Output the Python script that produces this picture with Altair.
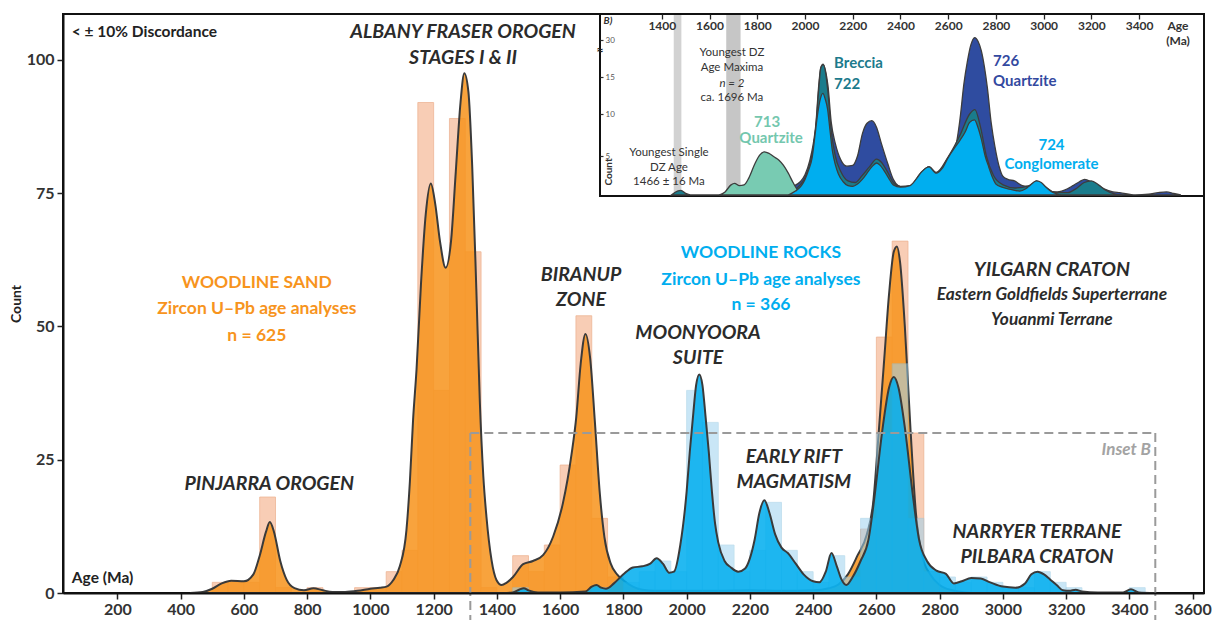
import altair as alt
import pandas as pd

FONT = "Lato"
INK = "#2b2b2b"
SAND = "#F7941D"
ROCK = "#00AEEF"
W, H = 1141, 579

# ---------------- main panel: kernel density curves (age Ma, count) ----------------
sand_age = [430, 470, 500, 530, 560, 600, 630, 650, 670, 682, 695, 715, 735, 760, 790,
            820, 850, 880, 920, 960, 1000, 1030, 1051, 1072, 1093, 1114, 1125, 1135, 1146,
            1160, 1175, 1191, 1205, 1220, 1238, 1255, 1270, 1285, 1297, 1310, 1322, 1335,
            1346, 1357, 1367, 1383, 1399, 1415, 1430, 1451, 1483, 1514, 1546, 1578, 1609,
            1636, 1651, 1665, 1680, 1695, 1710, 1725, 1740, 1760, 1780, 1800, 1830, 1860,
            1900, 2000, 2100, 2200, 2300, 2400, 2450, 2480, 2510, 2540, 2570, 2590, 2608,
            2625, 2640, 2655, 2665, 2675, 2690, 2708, 2725, 2745, 2770, 2800, 2840, 2900]
sand_cnt = [0, 0.2, 0.8, 1.8, 2.3, 2.2, 3.5, 7, 11.5, 13.3, 11.5, 6, 2.5, 0.9, 0.5,
            0.9, 0.5, 0.2, 0.2, 0.4, 0.8, 1.0, 1.2, 2.4, 5, 11.8, 21, 32.5, 42,
            58, 71, 76.8, 73, 66, 61, 66, 79, 92, 97.5, 94, 80, 57,
            36, 22, 14.3, 6.2, 2.4, 1.5, 1.9, 3, 5.4, 6, 7.1, 10.6, 16.9,
            26, 33, 43, 48.6, 44, 32, 19, 10.5, 5.5, 3.5, 2.4, 1.2, 0.6,
            0.4, 0.4, 0.4, 0.5, 0.4, 0.5, 0.9, 1.6, 3.5, 7, 11, 17, 30.6,
            44, 56, 64, 65, 62, 50, 30.6, 15, 7, 3.5, 1.5, 0.5, 0]

rock_age = [1420, 1450, 1470, 1485, 1500, 1530, 1600, 1680, 1700, 1715, 1730, 1745, 1770,
            1800, 1830, 1860, 1885, 1905, 1925, 1945, 1960, 1980, 2000, 2010, 2020, 2030,
            2040, 2050, 2060, 2070, 2080, 2090, 2100, 2120, 2140, 2163, 2185, 2200, 2215,
            2230, 2246, 2262, 2280, 2300, 2320, 2345, 2370, 2400, 2420, 2440, 2458, 2475,
            2490, 2505, 2525, 2550, 2575, 2595, 2619, 2640, 2655, 2670, 2691, 2715, 2735,
            2760, 2790, 2820, 2845, 2870, 2900, 2930, 2960, 3000, 3040, 3070, 3090, 3110,
            3130, 3150, 3170, 3190, 3210, 3230, 3250, 3300, 3380, 3405, 3430, 3480]
rock_cnt = [0, 0.1, 0.6, 0.9, 0.5, 0.1, 0.1, 0.3, 1.2, 1.5, 1.0, 0.8, 1.8,
            3.5, 4.8, 5, 5.5, 6.5, 5.5, 3.8, 4, 9, 19, 26.5, 33, 39,
            41, 39, 33, 26.5, 19, 13, 9.5, 6, 4.8, 4, 4.6, 6.5, 10,
            15, 17.4, 15, 11, 8.5, 7.5, 5.5, 3.5, 2.2, 2, 4, 7.5, 5,
            2.5, 1.5, 3, 6, 10, 18.5, 30.6, 38.5, 40.5, 38.5, 30.6, 18.5, 10,
            6, 4.2, 3.6, 1.8, 2.2, 2.8, 2.7, 2, 1.2, 1, 1.8, 3.5, 4,
            3.5, 2.5, 1.5, 0.5, 0.4, 0.6, 0.3, 0.1, 0.1, 0.7, 0.1, 0]

# ---------------- 50 Ma histogram bins ----------------
BIN = 50
sand_bin = [500, 550, 600, 650, 700, 800, 950, 1000, 1050, 1100, 1150, 1200, 1250, 1300,
            1350, 1450, 1500, 1550, 1600, 1650, 1700, 1750, 1800, 2550, 2600, 2650, 2700, 2750]
sand_bin_n = [2, 2, 2, 18, 1, 1, 1, 1, 4, 8, 92, 38, 89, 64,
              1, 7, 4, 9, 24, 52, 14, 3, 1, 12, 48, 66, 30, 4]
rock_bin = [1450, 1700, 1800, 1850, 1900, 1950, 2000, 2050, 2100, 2150, 2200, 2250, 2300,
            2350, 2400, 2450, 2500, 2550, 2600, 2650, 2700, 2750, 2800, 2850, 2900, 2950,
            3000, 3050, 3100, 3150, 3200, 3400]
rock_bin_n = [1, 1, 2, 4, 6, 4, 38, 32, 9, 4, 8, 17, 8,
              4, 2, 7, 3, 14, 30, 43, 14, 4, 3, 2, 3, 2,
              1, 1, 4, 2, 1, 1]

main_ticks = list(range(200, 3601, 200))
count_ticks = [0, 25, 50, 75, 100]
box_age = [1316, 3482]
box_count = 30

# ---------------- inset B: individual samples ----------------
q726_age = [1860, 1900, 1950, 1980, 2000, 2020, 2035, 2045, 2058, 2066, 2076, 2086, 2096,
            2110, 2127, 2150, 2175, 2200, 2220, 2241, 2260, 2280, 2300, 2320, 2347, 2370,
            2390, 2420, 2445, 2470, 2490, 2520, 2550, 2575, 2600, 2633, 2650, 2666, 2680,
            2695, 2711, 2725, 2739, 2752, 2764, 2780, 2796, 2815, 2829, 2850, 2878, 2911,
            2960, 2992, 3057, 3100, 3123, 3150, 3172, 3204, 3230, 3253, 3290, 3319, 3384,
            3440, 3480, 3515, 3545, 3575]
q726_cnt = [0, 0.4, 1.1, 1.7, 2.6, 4.4, 6.5, 8.6, 14, 18.8, 20.2, 17.5, 13.9,
            9, 6.5, 4.5, 3.7, 3.8, 5, 7.7, 8.9, 9.2, 8.4, 6.5, 4, 2,
            1.2, 0.9, 1.2, 2, 2.9, 3.6, 2.8, 3.5, 4.8, 6.4, 9.5, 14.1, 21,
            28, 31, 29.5, 25.6, 19, 13.6, 9, 6.1, 3.5, 2.4, 2, 1.8, 1.2,
            1, 0.5, 0.4, 0.8, 1.2, 1.7, 2, 1.6, 1.2, 0.8, 0.4, 0.3, 0,
            0.1, 0.3, 0.4, 0.2, 0]

b722_age = [1440, 1465, 1480, 1500, 1520, 1900, 1950, 1980, 2000, 2020, 2035, 2045, 2058,
            2066, 2076, 2086, 2096, 2110, 2127, 2150, 2180, 2210, 2240, 2270, 2300, 2320,
            2345, 2370, 2400, 2440, 2490, 2520, 2550, 2600, 2650, 2690, 2712, 2735, 2760,
            2790, 2830, 2880, 2940, 2970, 3000, 3050, 3100, 3140, 3170, 3200, 3230, 3260,
            3300, 3330]
b722_cnt = [0, 0.5, 0.6, 0.2, 0, 0, 0.5, 1.3, 2.2, 4, 6, 8.3, 13.5,
            18.5, 20, 17, 13, 8, 5, 3, 1.8, 1.6, 2.5, 3.6, 4.6, 4.2,
            3, 1.6, 1.1, 1.2, 3, 3.6, 2.9, 4.9, 7.5, 10, 10.6, 8.5, 5,
            2.5, 1.3, 0.9, 1.2, 1.8, 1.2, 0.3, 0.3, 0.9, 1.6, 1.8, 1.3, 0.6,
            0.1, 0]

c724_age = [1930, 1960, 1985, 2000, 2015, 2030, 2042, 2052, 2064, 2075, 2085, 2095, 2105,
            2115, 2128, 2140, 2160, 2180, 2200, 2220, 2240, 2260, 2280, 2300, 2315, 2330,
            2350, 2370, 2400, 2440, 2465, 2490, 2520, 2550, 2575, 2600, 2625, 2650, 2670,
            2690, 2710, 2725, 2740, 2755, 2770, 2785, 2800, 2825, 2850, 2900, 2925, 2945,
            2970, 2990, 3010, 3030, 3050, 3070]
c724_cnt = [0, 0.5, 1.2, 2, 3.2, 4.8, 7.5, 9.8, 12, 12.8, 12, 10.6, 8,
            5.6, 3.8, 2.7, 1.7, 1.2, 1.1, 1.4, 2, 2.8, 3.6, 4.1, 3.8, 3.2,
            2.2, 1.3, 1, 1.2, 2, 3, 3.6, 2.8, 3.4, 4.8, 5.9, 6.9, 7.8,
            9, 9.3, 8.4, 6.9, 5, 3.6, 2.3, 1.4, 1, 0.8, 0.5, 0.8, 1.3,
            1.8, 1.6, 1, 0.5, 0.2, 0]

q713_age = [1640, 1665, 1690, 1705, 1725, 1745, 1765, 1790, 1810, 1830, 1850, 1870, 1890,
            1910, 1930, 1950, 1970, 1990, 2010]
q713_cnt = [0, 0.4, 1.3, 1.5, 1.2, 1.3, 2.2, 4, 5.1, 5.5, 5.3, 4.9, 4.5,
            3.8, 2.8, 1.6, 0.6, 0.2, 0]

inset_ticks = list(range(1400, 3401, 200))
inset_count_ticks = [5, 10, 15, 30]
band_lo = [1450, 1670]
band_hi = [1482, 1730]
band_col = ["#D2D2D2", "#C6C6C6"]


def curve(a, c):
    return pd.DataFrame({"age": a, "count": c})


def bins(s, n):
    return pd.DataFrame({"start": s, "count": n})


# ---------------- main scales / axes ----------------
xs = alt.Scale(domain=[28, 3636], nice=False, zero=False)
ys = alt.Scale(domain=[0, 108.6], nice=False)
x_axis = alt.Axis(values=main_ticks, format="d", title=None, grid=False, labelFont=FONT,
                  labelFontSize=16, labelFontWeight="bold", labelColor="#333", tickColor="#222",
                  tickWidth=1.5, tickSize=6, domainColor="#111", domainWidth=2, labelPadding=2,
                  zindex=1, labelFlush=False, labelOverlap=False)
y_axis = alt.Axis(values=count_ticks, format="d", title="Count", grid=False, labelFont=FONT,
                  labelFontSize=16, labelFontWeight="bold", labelColor="#333", tickColor="#222",
                  tickWidth=1.5, tickSize=6, domainColor="#111", domainWidth=2, labelPadding=3,
                  zindex=1, titleFont=FONT, titleFontSize=14, titleFontWeight="bold",
                  titleColor="#222", titlePadding=3, labelFlush=False)


def MX(f):
    return alt.X(f, type="quantitative", scale=xs, axis=x_axis)


def MY(f):
    return alt.Y(f, type="quantitative", scale=ys, axis=y_axis)


sand_bars = alt.Chart(bins(sand_bin, sand_bin_n)).transform_calculate(
    end=f"datum.start + {BIN}"
).mark_rect(fill="#F8CDB5", stroke="#EDB596", strokeWidth=0.8).encode(
    x=MX("start"), x2="end:Q", y=MY("count"), y2=alt.datum(0))

sand_area = alt.Chart(curve(sand_age, sand_cnt)).mark_area(
    interpolate="monotone", fill=SAND, fillOpacity=0.86, stroke="#3a3a3a", strokeWidth=2
).encode(x=MX("age"), y=MY("count"))

rock_bars = alt.Chart(bins(rock_bin, rock_bin_n)).transform_calculate(
    end=f"datum.start + {BIN}"
).mark_rect(fill="#9ED3F0", opacity=0.55, stroke="#8CC4E0", strokeWidth=0.8).encode(
    x=MX("start"), x2="end:Q", y=MY("count"), y2=alt.datum(0))

rock_area = alt.Chart(curve(rock_age, rock_cnt)).mark_area(
    interpolate="monotone", fill=ROCK, fillOpacity=0.86, stroke="#3a3a3a", strokeWidth=2
).encode(x=MX("age"), y=MY("count"))

dash = dict(stroke="#9A9A9A", strokeWidth=2, strokeDash=[9, 5])
box_top = alt.Chart(pd.DataFrame({"a": [box_age[0]], "b": [box_age[1]], "c": [box_count]})).mark_rule(
    **dash).encode(x=MX("a"), x2="b:Q", y=MY("c"))
box_sides = alt.Chart(pd.DataFrame({"a": box_age, "c": [box_count] * 2})).mark_rule(
    **dash).encode(x=MX("a"), y=MY("c"), y2=alt.value(H + 27))


def labels(rows, **kw):
    df = pd.DataFrame(rows, columns=["t", "age", "count"])
    base = dict(font=FONT, baseline="middle")
    base.update(kw)
    return alt.Chart(df).mark_text(**base).encode(x=MX("age"), y=MY("count"), text="t:N")


terranes = labels([
    ("ALBANY FRASER OROGEN", 1293, 105.2),
    ("STAGES I & II", 1293, 100.3),
    ("PINJARRA OROGEN", 680, 20.4),
    ("BIRANUP", 1666, 59.6),
    ("ZONE", 1666, 54.9),
    ("MOONYOORA", 2036, 48.8),
    ("SUITE", 2036, 44.1),
    ("YILGARN CRATON", 3155, 60.6),
    ("EARLY RIFT", 2339, 25.5),
    ("MAGMATISM", 2339, 20.8),
    ("NARRYER TERRANE", 3108, 11.4),
    ("PILBARA CRATON", 3108, 6.75),
], fontSize=19.5, fontWeight="bold", fontStyle="italic", color=INK)

yilgarn_sub = labels([
    ("Eastern Goldfields Superterrane", 3155, 55.9),
    ("Youanmi Terrane", 3155, 51.2),
], fontSize=17.3, fontWeight="bold", fontStyle="italic", color=INK)

sand_note = labels([
    ("WOODLINE SAND", 641, 58.1),
    ("Zircon U–Pb age analyses", 641, 53.3),
    ("n = 625", 641, 48.2),
], fontSize=17.5, fontWeight="bold", color=SAND)

rock_note = labels([
    ("WOODLINE ROCKS", 2235, 63.8),
    ("Zircon U–Pb age analyses", 2235, 58.7),
    ("n = 366", 2235, 54.0),
], fontSize=17.5, fontWeight="bold", color=ROCK)

corner = labels([
    ("< ± 10% Discordance", 56, 105.2),
    ("Age (Ma)", 56, 2.8),
], fontSize=15.5, fontWeight="bold", color="#222", align="left")

inset_tag = labels([("Inset B", 3468, 26.8)], fontSize=17, fontWeight="bold",
                   fontStyle="italic", color="#A3A3A3", align="right")

main = alt.layer(sand_bars, sand_area, rock_bars, rock_area, box_top, box_sides,
                 terranes, yilgarn_sub, sand_note, rock_note, corner, inset_tag)

# ---------------- inset scales / axes ----------------
IX0 = 537
ix = alt.Scale(domain=[1141, 3672], range=[IX0, W], nice=False, zero=False)
iy = alt.Scale(domain=[0, 5, 10, 15, 30], range=[181, 142, 100, 63, 26], nice=False, zero=False)
ix_axis = alt.Axis(orient="bottom", offset=-H, values=inset_ticks, format="d", title=None,
                   grid=False, domain=False, labelFont=FONT, labelFontSize=12,
                   labelFontWeight="bold", labelColor="#333", tickSize=5, tickColor="#222",
                   tickWidth=1.3, labelPadding=1, zindex=2, labelFlush=False, labelOverlap=False)
iy_axis = alt.Axis(orient="right", offset=-(W - IX0), values=inset_count_ticks, format="d",
                   title=None, grid=False, domain=False, labelFont=FONT, labelFontSize=8,
                   labelColor="#555", tickSize=3, tickColor="#333", tickWidth=1.2,
                   labelPadding=2, zindex=2, labelFlush=False)


def IX(f):
    return alt.X(f, type="quantitative", scale=ix, axis=ix_axis)


def IY(f):
    return alt.Y(f, type="quantitative", scale=iy, axis=iy_axis)


inset_bg = alt.Chart(pd.DataFrame({"k": [0]})).mark_rect(
    fill="white", stroke="#111", strokeWidth=2
).encode(x=alt.value(IX0), x2=alt.value(W), y=alt.value(0), y2=alt.value(182))

bands = alt.Chart(pd.DataFrame({"lo": band_lo, "hi": band_hi, "col": band_col})).mark_rect().encode(
    x=IX("lo"), x2="hi:Q", y=alt.value(1), y2=alt.value(181),
    color=alt.Color("col:N", scale=None))


def sample(a, c, col):
    return alt.Chart(curve(a, c)).mark_area(
        interpolate="monotone", fill=col, stroke="#3d3d3d", strokeWidth=1.3
    ).encode(x=IX("age"), y=IY("count"))


s726 = sample(q726_age, q726_cnt, "#2F4CA0")
s722 = sample(b722_age, b722_cnt, "#1A7C8C")
s713 = sample(q713_age, q713_cnt, "#78CBB2")
s724 = sample(c724_age, c724_cnt, ROCK)


def ilabels(rows, **kw):
    df = pd.DataFrame(rows, columns=["t", "age", "count"])
    base = dict(font=FONT, baseline="middle")
    base.update(kw)
    return alt.Chart(df).mark_text(**base).encode(x=IX("age"), y=IY("count"), text="t:N")


notes = ilabels([
    ("Youngest DZ", 1694, 24.7),
    ("Age Maxima", 1694, 18.6),
    ("ca. 1696 Ma", 1694, 12.2),
    ("Youngest Single", 1430, 5.36),
    ("DZ Age", 1430, 3.46),
    ("1466 ± 16 Ma", 1430, 1.73),
], fontSize=11.5, color="#333")
notes_it = ilabels([("n = 2", 1694, 14.1)], fontSize=11.5, fontStyle="italic", color="#333")
lab713 = ilabels([("713", 1841, 9.0), ("Quartzite", 1858, 7.1)],
                 fontSize=15, fontWeight="bold", color="#74C7AE")
lab722 = ilabels([("Breccia", 2122, 20.7), ("722", 2122, 14.05)],
                 fontSize=15, fontWeight="bold", color="#1C7A8C", align="left")
lab726 = ilabels([("726", 2788, 21.5), ("Quartzite", 2788, 14.5)],
                 fontSize=15, fontWeight="bold", color="#3349A0", align="left")
lab724 = ilabels([("724", 3033, 6.3), ("Conglomerate", 3033, 4.0)],
                 fontSize=15, fontWeight="bold", color=ROCK)
count_lab = ilabels([("Count", 1177, 2.95)], fontSize=10, fontWeight="bold", color="#333",
                    angle=270)


def pix_text(t, x, y, **kw):
    base = dict(font=FONT, baseline="middle")
    base.update(kw)
    return alt.Chart(pd.DataFrame({"t": [t]})).mark_text(**base).encode(
        x=alt.value(x), y=alt.value(y), text="t:N")


tag_b = pix_text("B)", 545, 7, fontSize=10, fontWeight="bold", fontStyle="italic", color="#333")
age_a = pix_text("Age", 1115, 12, fontSize=12, fontWeight="bold", color="#333")
age_b = pix_text("(Ma)", 1115, 27, fontSize=12, fontWeight="bold", color="#333")
axis_break = pix_text("≈", 537, 37, fontSize=13, fontWeight="bold", color="#222")

inset = alt.layer(inset_bg, bands, s726, s722, s713, s724, notes, notes_it,
                  lab713, lab722, lab726, lab724, count_lab, tag_b, age_a, age_b, axis_break)

chart = alt.layer(main, inset).resolve_scale(
    x="independent", y="independent"
).properties(
    width=W, height=H,
    autosize=alt.AutoSizeParams(type="none"),
    padding={"left": 63, "top": 14, "right": 8, "bottom": 27},
    background="white",
).configure_view(stroke="#111", strokeWidth=2)

chart.save("out.html", embed_options={"renderer": "svg", "actions": False})
